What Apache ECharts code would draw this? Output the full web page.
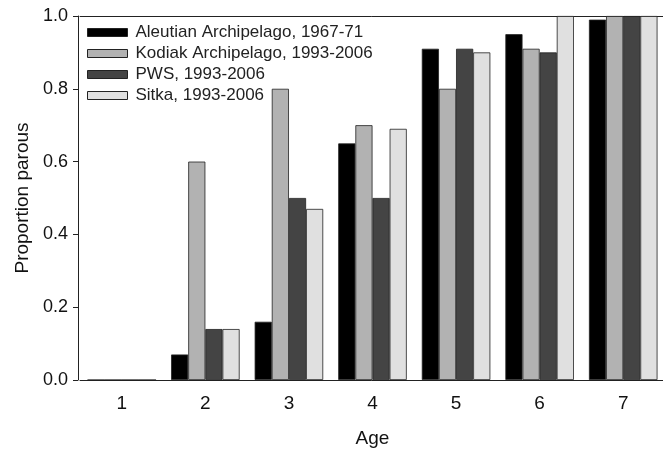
<html>
<head>
    <meta charset="utf-8" />
    <style>
        html, body { margin: 0; padding: 0; background: #fff; }
        #chart { width: 663px; height: 450px; }
    </style>
    <script src="https://cdn.jsdelivr.net/npm/echarts@6/dist/echarts.min.js"></script>
</head>
<body>
    <div id="chart"></div>
    <script type="text/javascript">
        var ages = ['1', '2', '3', '4', '5', '6', '7'];
        var yTicks = [0, 0.2, 0.4, 0.6, 0.8, 1.0];
        var aleutian = [0, 0.07, 0.16, 0.65, 0.91, 0.95, 0.99];
        var kodiak = [0, 0.60, 0.80, 0.70, 0.80, 0.91, 1.0];
        var pws = [0, 0.14, 0.50, 0.50, 0.91, 0.90, 1.0];
        var sitka = [0, 0.14, 0.47, 0.69, 0.90, 1.0, 1.0];
        var names = ['Aleutian Archipelago, 1967-71', 'Kodiak Archipelago, 1993-2006',
            'PWS, 1993-2006', 'Sitka, 1993-2006'];
        var colors = ['#000000', '#b2b2b2', '#444444', '#e0e0e0'];

        var chart = echarts.init(document.getElementById('chart'));
        var font = 'Liberation Sans, Arial, sans-serif';

        function bar(name, data, color) {
            return {
                name: name,
                type: 'bar',
                data: data,
                barGap: '0%',
                barCategoryGap: '18%',
                itemStyle: { color: color, borderColor: '#222', borderWidth: 0.8 },
                emphasis: { disabled: true }
            };
        }

        var option = {
            backgroundColor: '#fff',
            animation: false,
            grid: { left: 80, right: -2, top: 16, bottom: 70, outerBoundsMode: 'none' },
            legend: {
                orient: 'vertical',
                left: 82,
                top: 19,
                itemWidth: 40,
                itemHeight: 8,
                itemGap: 4,
                textStyle: { fontFamily: font, fontSize: 17, color: '#222', padding: [0, 0, 0, 3] },
                data: names.map(function (n, i) {
                    return { name: n, icon: 'rect', itemStyle: { color: colors[i], borderColor: '#222', borderWidth: 1 } };
                })
            },
            xAxis: [{
                type: 'category',
                data: ages,
                name: 'Age',
                nameLocation: 'middle',
                nameGap: 49,
                nameTextStyle: { fontFamily: font, fontSize: 19, color: '#111' },
                axisLine: { lineStyle: { color: '#222', width: 1 } },
                axisTick: { alignWithLabel: true, length: 4, lineStyle: { color: '#222' } },
                axisLabel: { fontFamily: font, fontSize: 19, color: '#111', margin: 14 }
            }, {
                type: 'category',
                data: ages,
                position: 'top',
                axisLine: { lineStyle: { color: '#222', width: 1 } },
                axisTick: { show: false },
                axisLabel: { show: false }
            }],
            yAxis: {
                type: 'value',
                min: yTicks[0],
                max: yTicks[yTicks.length - 1],
                interval: 0.2,
                offset: 2,
                name: 'Proportion parous',
                nameLocation: 'middle',
                nameGap: 46,
                nameTextStyle: { fontFamily: font, fontSize: 19, color: '#111' },
                axisLine: { show: true, lineStyle: { color: '#222', width: 1 } },
                axisTick: { show: true, length: 5, lineStyle: { color: '#222' } },
                splitLine: { show: false },
                axisLabel: {
                    fontFamily: font, fontSize: 18, color: '#111', margin: 10,
                    formatter: function (v) { return v.toFixed(1); }
                }
            },
            series: [
                bar(names[0], aleutian, colors[0]),
                bar(names[1], kodiak, colors[1]),
                bar(names[2], pws, colors[2]),
                bar(names[3], sitka, colors[3])
            ]
        };
        chart.setOption(option);
    </script>
</body>
</html>
